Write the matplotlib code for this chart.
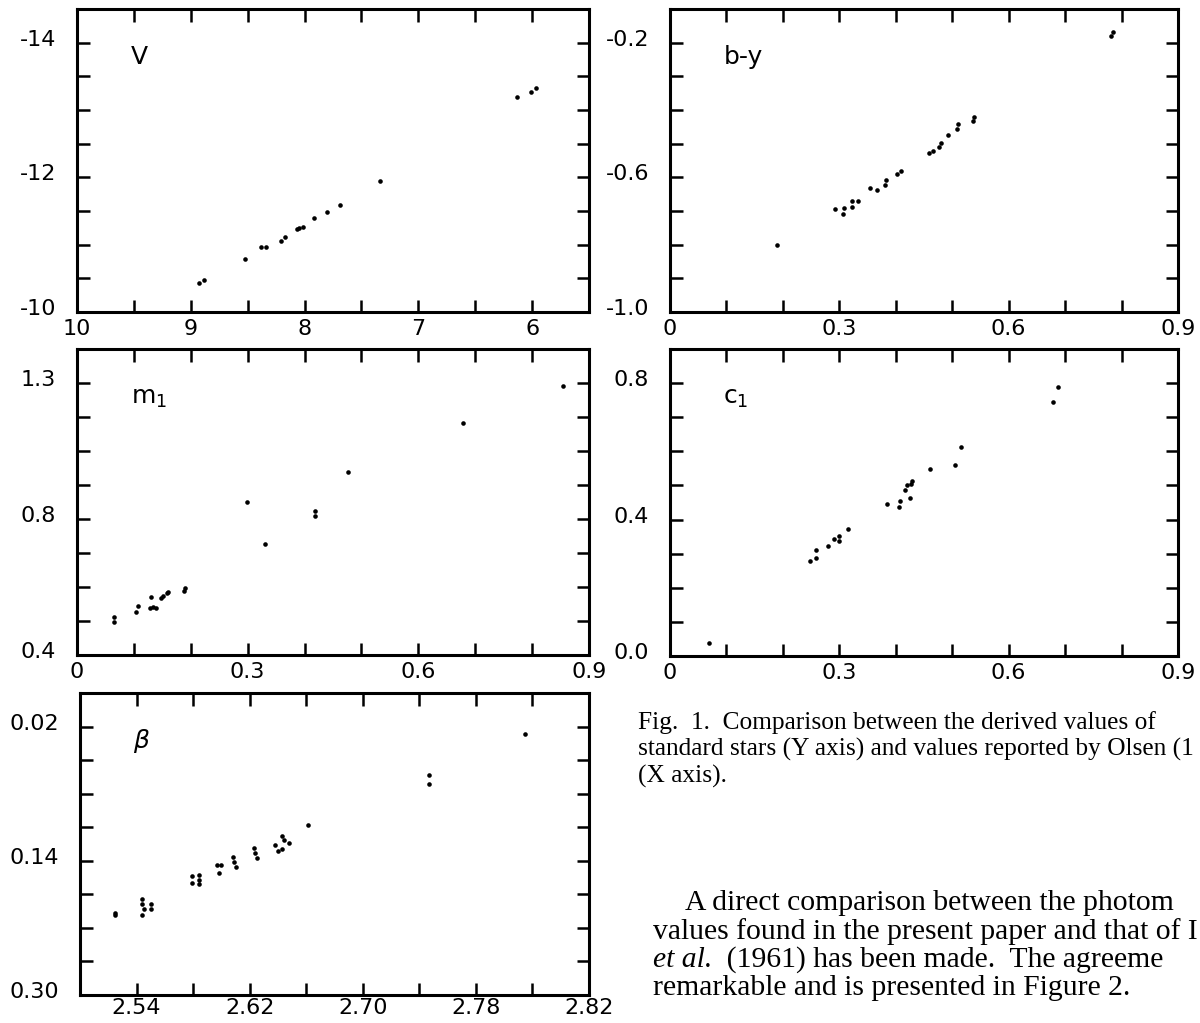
import numpy as np
import matplotlib
matplotlib.use("Agg")
import matplotlib.pyplot as plt
from matplotlib.transforms import ScaledTranslation

# ---------------- data ----------------
V_x = [8.93, 8.88, 8.52, 8.38, 8.34, 8.21, 8.17, 8.07, 8.05, 8.01, 7.92, 7.80, 7.69, 7.34, 6.13, 6.01, 5.97]
V_y = [-10.43, -10.47, -10.79, -10.96, -10.96, -11.06, -11.12, -11.23, -11.25, -11.26, -11.39, -11.49,
       -11.59, -11.94, -13.19, -13.26, -13.32]

by_x = [0.190, 0.292, 0.307, 0.309, 0.322, 0.323, 0.333, 0.354, 0.367, 0.381, 0.382, 0.403, 0.410,
        0.459, 0.466, 0.476, 0.480, 0.493, 0.509, 0.511, 0.537, 0.539, 0.782, 0.785]
by_y = [-0.801, -0.693, -0.710, -0.692, -0.687, -0.670, -0.670, -0.631, -0.637, -0.622, -0.608, -0.591,
        -0.580, -0.527, -0.523, -0.511, -0.498, -0.475, -0.455, -0.442, -0.433, -0.420, -0.180, -0.168]

m1_x = [0.065, 0.065, 0.104, 0.107, 0.130, 0.128, 0.134, 0.139, 0.148, 0.151, 0.158, 0.160, 0.188,
        0.189, 0.299, 0.331, 0.418, 0.418, 0.476, 0.678, 0.855]
m1_y = [0.512, 0.497, 0.526, 0.544, 0.571, 0.538, 0.541, 0.538, 0.568, 0.574, 0.582, 0.585, 0.589,
        0.596, 0.850, 0.727, 0.823, 0.808, 0.937, 1.082, 1.190]

c1_x = [0.069, 0.248, 0.258, 0.259, 0.280, 0.290, 0.300, 0.300, 0.315, 0.385, 0.405, 0.407, 0.417,
        0.419, 0.425, 0.427, 0.429, 0.460, 0.505, 0.515, 0.678, 0.688]
c1_y = [0.037, 0.279, 0.310, 0.288, 0.322, 0.343, 0.351, 0.336, 0.372, 0.445, 0.436, 0.455, 0.488,
        0.500, 0.463, 0.504, 0.514, 0.547, 0.561, 0.613, 0.746, 0.789]

beta_x = [2.525, 2.525, 2.544, 2.544, 2.545, 2.544, 2.550, 2.550, 2.579, 2.579, 2.584, 2.584, 2.584,
          2.597, 2.600, 2.598, 2.608, 2.609, 2.610, 2.623, 2.624, 2.625, 2.638, 2.640, 2.643, 2.644,
          2.643, 2.648, 2.661, 2.747, 2.747, 2.815]
beta_y = [0.202, 0.205, 0.185, 0.191, 0.197, 0.205, 0.192, 0.198, 0.158, 0.167, 0.157, 0.163, 0.168,
          0.145, 0.145, 0.155, 0.135, 0.141, 0.147, 0.125, 0.131, 0.137, 0.121, 0.128, 0.111, 0.115,
          0.126, 0.119, 0.097, 0.038, 0.049, -0.011]

# tick positions and labels (labels as printed in the figure)
V_xticks = [10, 9.5, 9, 8.5, 8, 7.5, 7, 6.5, 6]
V_xlabels = ["10", "", "9", "", "8", "", "7", "", "6"]
V_yticks = [-10, -10.5, -11, -11.5, -12, -12.5, -13, -13.5, -14]
V_ylabels = ["-10", "", "", "", "-12", "", "", "", "-14"]

c_xticks = [0, 0.1, 0.2, 0.3, 0.4, 0.5, 0.6, 0.7, 0.8, 0.9]
c_xlabels = ["0", "", "", "0.3", "", "", "0.6", "", "", "0.9"]

by_yticks = [-1.0, -0.9, -0.8, -0.7, -0.6, -0.5, -0.4, -0.3, -0.2]
by_ylabels = ["-1.0", "", "", "", "-0.6", "", "", "", "-0.2"]

m1_yticks = [0.4, 0.5, 0.6, 0.7, 0.8, 0.9, 1.0, 1.1, 1.2]
m1_ylabels = ["0.4", "", "", "", "0.8", "", "", "", "1.3"]

c1_yticks = [0.0, 0.1, 0.2, 0.3, 0.4, 0.5, 0.6, 0.7, 0.8]
c1_ylabels = ["0.0", "", "", "", "0.4", "", "", "", "0.8"]

beta_xticks = [2.54, 2.58, 2.62, 2.66, 2.70, 2.74, 2.78, 2.82, 2.86]
beta_xlabels = ["2.54", "", "2.62", "", "2.70", "", "2.78", "", "2.82"]
beta_yticks = [0.30, 0.26, 0.22, 0.18, 0.14, 0.10, 0.06, 0.02, -0.02]
beta_ylabels = ["0.30", "", "", "", "0.14", "", "", "", "0.02"]

caption_lines = ["Fig.  1.  Comparison between the derived values of",
                 "standard stars (Y axis) and values reported by Olsen (1",
                 "(X axis)."]
para_lines = ["A direct comparison between the photom",
              "values found in the present paper and that of I",
              None,
              "remarkable and is presented in Figure 2."]
para_italic = "et al."
para_rest = "  (1961) has been made.  The agreeme"

# ---------------- figure ----------------
W, H = 1200, 1023
fig = plt.figure(figsize=(W / 100, H / 100), dpi=100)
fig.patch.set_facecolor("white")
SANS = ["DejaVu Sans"]
SERIF = ["Liberation Serif", "DejaVu Serif"]


def box(l, t, r, b):
    return [l / W, 1 - b / H, (r - l) / W, (b - t) / H]


def style(ax, xlim, ylim, xt, xl, yt, yl, label, xpad=5):
    ax.set_xlim(*xlim)
    ax.set_ylim(*ylim)
    ax.set_xticks(xt)
    ax.set_xticklabels(xl)
    ax.set_yticks(yt)
    ax.set_yticklabels(yl)
    for s in ax.spines.values():
        s.set_linewidth(2.2)
    ax.tick_params(direction="in", length=9, width=1.8, top=True, right=True,
                   labelsize=16, colors="black")
    ax.tick_params(axis="x", pad=xpad)
    ax.tick_params(axis="y", pad=15)
    for lab in ax.get_xticklabels() + ax.get_yticklabels():
        lab.set_family(SANS)
    off = ScaledTranslation(0, 5 / 100, fig.dpi_scale_trans)
    for lab in ax.get_yticklabels():
        lab.set_transform(lab.get_transform() + off)
    ax.text(0.105, 0.84, label, transform=ax.transAxes, fontsize=18,
            family=SANS, va="center", ha="left")


def dots(ax, x, y):
    ax.plot(x, y, linestyle="none", marker="o", markersize=3.3, color="black",
            markeredgewidth=0)


ax1 = fig.add_axes(box(77, 9, 589, 312))
dots(ax1, V_x, V_y)
style(ax1, (10, 5.5), (-10, -14.5), V_xticks, V_xlabels, V_yticks, V_ylabels, "V")

ax2 = fig.add_axes(box(670, 9, 1178, 312))
dots(ax2, by_x, by_y)
style(ax2, (0, 0.9), (-1.0, -0.1), c_xticks, c_xlabels, by_yticks, by_ylabels, "b-y")

ax3 = fig.add_axes(box(77, 349, 589, 655))
dots(ax3, m1_x, m1_y)
style(ax3, (0, 0.9), (0.4, 1.3), c_xticks, c_xlabels, m1_yticks, m1_ylabels, "m$_1$")

ax4 = fig.add_axes(box(670, 349, 1178, 656))
dots(ax4, c1_x, c1_y)
style(ax4, (0, 0.9), (0.0, 0.9), c_xticks, c_xlabels, c1_yticks, c1_ylabels, "c$_1$")

ax5 = fig.add_axes(box(80, 693, 589, 995))
dots(ax5, beta_x, beta_y)
style(ax5, (2.50, 2.86), (0.30, -0.06), beta_xticks, beta_xlabels, beta_yticks, beta_ylabels,
      r"$\beta$", xpad=2)

# ---------------- text ----------------
CAP_FS = 18.3
PARA_FS = 21.3
cap_x = 638 / W
cap_y = [723, 749, 776]
for line, y in zip(caption_lines, cap_y):
    fig.text(cap_x, 1 - y / H, line, family=SERIF, fontsize=CAP_FS, va="center", ha="left")

para_y = [903, 932, 960, 988]
para_x = [685 / W, 653 / W, 653 / W, 653 / W]
italic_text = None
for line, y, x in zip(para_lines, para_y, para_x):
    if line is not None:
        fig.text(x, 1 - y / H, line, family=SERIF, fontsize=PARA_FS, va="center", ha="left")
    else:
        italic_text = fig.text(x, 1 - y / H, para_italic, family=SERIF, style="italic",
                               fontsize=PARA_FS, va="center", ha="left")

# place the remainder of the italic line right after "et al."
fig.canvas.draw()
renderer = fig.canvas.get_renderer()
bb = italic_text.get_window_extent(renderer)
fig.text(bb.x1 / W, 1 - para_y[2] / H, para_rest, family=SERIF, fontsize=PARA_FS,
         va="center", ha="left")

fig.savefig("out.png", dpi=100, facecolor="white")
